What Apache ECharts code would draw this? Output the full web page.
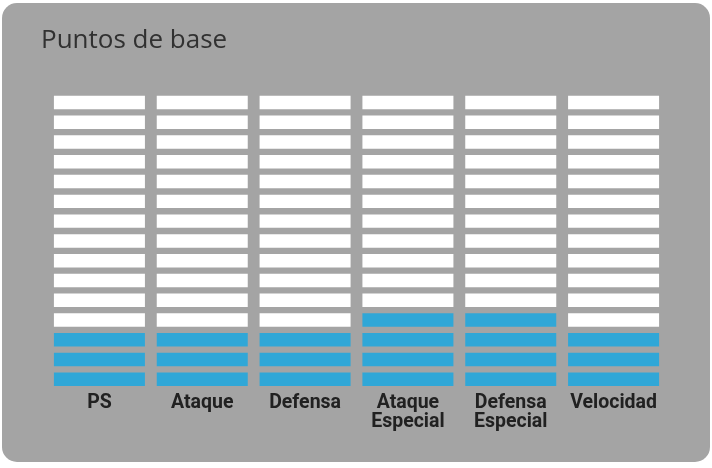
<!DOCTYPE html>
<html>
<head>
<meta charset="utf-8">
<script src="https://cdn.jsdelivr.net/npm/echarts@6/dist/echarts.min.js"></script>
<style>
  html, body { margin: 0; padding: 0; background: #ffffff; }
  #main { width: 712px; height: 468px; }
</style>
</head>
<body>
<div id="main"></div>
<script>
// estadísticas base (en segmentos de 15)
var categories = ['PS', 'Ataque', 'Defensa', 'Ataque Especial', 'Defensa Especial', 'Velocidad'];
var segmentValues = [3, 3, 3, 4, 4, 3];
var totalSegments = 15;

var chart = echarts.init(document.getElementById('main'));

var option = {
	graphic: [{
		type: 'rect',
		z: -10,
		silent: true,
		shape: { x: 2, y: 3, width: 708, height: 459, r: 15 },
		style: { fill: '#a4a4a4' }
	}],
	title: {
		text: 'Puntos de base',
		left: 36,
		top: 23,
		textStyle: {
			fontFamily: 'Open Sans',
			fontSize: 26,
			fontWeight: 'normal',
			color: '#313131'
		}
	},
	grid: { left: 48, right: 47, top: 89.5, bottom: 82 },
	xAxis: {
		type: 'category',
		data: categories,
		axisLine: { show: false },
		axisTick: { show: false },
		axisLabel: {
			interval: 0,
			margin: 8,
			fontFamily: 'Roboto',
			fontWeight: 'bold',
			fontSize: 19.5,
			lineHeight: 19,
			color: '#212121',
			formatter: function (v) { return v.replace(' ', '\n'); }
		}
	},
	yAxis: {
		type: 'value',
		min: 0,
		max: totalSegments,
		show: false
	},
	series: [{
		type: 'custom',
		data: segmentValues.map(function (v, i) { return [i, v]; }),
		encode: { x: 0, y: 1 },
		renderItem: function (params, api) {
			var idx = api.value(0);
			var filled = api.value(1);
			var w = api.size([1, 0])[0] * 0.885;
			var cx = api.coord([idx, 0])[0];
			var gap = 6.3;
			var children = [];
			for (var i = 0; i < totalSegments; i++) {
				var bottom = api.coord([idx, i])[1];
				var top = api.coord([idx, i + 1])[1];
				children.push({
					type: 'rect',
					shape: { x: cx - w / 2, y: top + gap, width: w, height: bottom - top - gap },
					style: { fill: i < filled ? '#30a7d7' : '#ffffff' }
				});
			}
			return { type: 'group', children: children };
		}
	}]
};

chart.setOption(option);
</script>
</body>
</html>
